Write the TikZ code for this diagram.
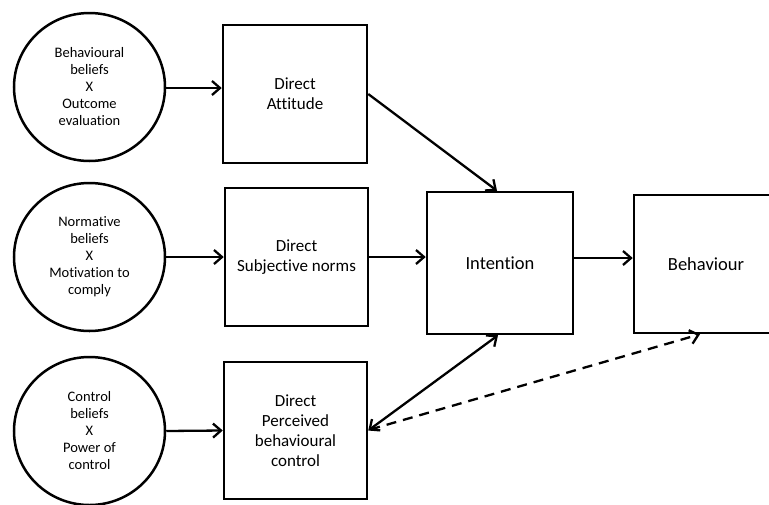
\documentclass[tikz,border=0pt]{standalone}
\usepackage{fontspec}
\setmainfont{Carlito}[Ligatures={NoCommon}]
\usetikzlibrary{arrows.meta,shapes.geometric}
\tikzset{
  belief/.style={draw, line width=2.5pt, ellipse, minimum width=151pt, minimum height=148pt, inner sep=0pt, align=center, font=\fontsize{14.5}{17}\selectfont},
  directbox/.style={draw, line width=2.5pt, rectangle, minimum width=143pt, minimum height=138pt, inner sep=0pt, align=center, font=\fontsize{17}{20}\selectfont},
  mainbox/.style={draw, line width=2.5pt, rectangle, inner sep=0pt, align=center, font=\fontsize{18.5}{22}\selectfont},
  arr/.style={line width=2.3pt, -{Straight Barb[length=8pt,width=14pt]}},
}
\begin{document}
\begin{tikzpicture}[x=1pt,y=-1pt]
\useasboundingbox (0,0) rectangle (769,504);
\node[belief] (c1) at (89.5,87) {Behavioural\\beliefs\\X\\Outcome\\evaluation};
\node[belief] (c2) at (89.5,257) {Normative\\beliefs\\X\\Motivation to\\comply};
\node[belief] (c3) at (89.5,431) {Control\\beliefs\\X\\Power of\\control};
\node[directbox, minimum width=144pt] (b1) at (295,94) {Direct\\Attitude};
\node[directbox] (b2) at (296.5,257) {Direct\\Subjective norms};
\node[directbox, minimum height=137pt] (b3) at (295.5,430.5) {Direct\\Perceived\\behavioural\\control};
\node[mainbox, minimum width=146pt, minimum height=142pt] (int) at (500,263) {Intention};
\node[mainbox, minimum width=144pt, minimum height=138pt] (beh) at (706,264) {Behaviour};
\draw[arr] (c1.east |- 0,88) -- (b1.west |- 0,88);
\draw[arr] (c2.east) -- (b2.west);
\draw[arr] (c3.east) -- (b3.west);
\draw[arr] (b2.east) -- (int.west |- b2.east);
\draw[arr] (int.east |- 0,258) -- (beh.west |- 0,258);
\draw[arr] (b1.east) -- ([xshift=-3pt]int.north);
\draw[arr, {Straight Barb[length=8pt,width=14pt]}-{Straight Barb[length=8pt,width=14pt]}] (b3.east) -- ([xshift=-2pt]int.south);
\draw[arr, dash pattern=on 10pt off 7pt] ([xshift=2pt,yshift=1pt]b3.east) -- ([xshift=-6pt]beh.south);
\end{tikzpicture}
\end{document}
